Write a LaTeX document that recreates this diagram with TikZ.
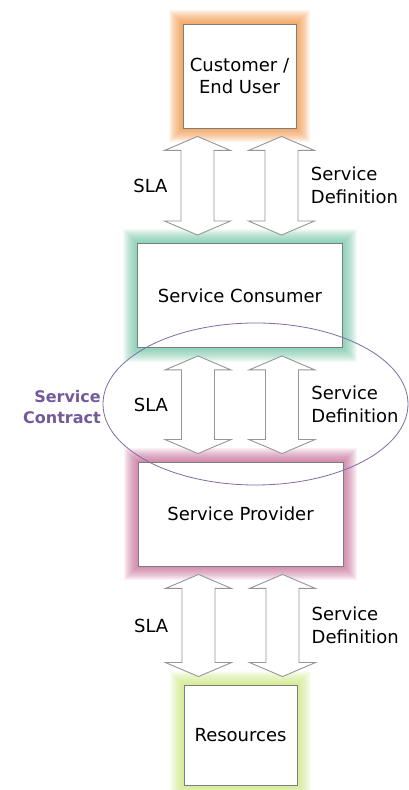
\documentclass[tikz,border=0pt]{standalone}
\usepackage{fontspec}
\setmainfont{DejaVu Sans}
\usetikzlibrary{calc,backgrounds}

\definecolor{custglow}{RGB}{245,135,40}
\definecolor{consglow}{RGB}{100,195,160}
\definecolor{provglow}{RGB}{195,90,140}
\definecolor{resglow}{RGB}{200,232,110}
\definecolor{contract}{RGB}{115,90,155}
\definecolor{boxedge}{RGB}{125,125,125}
\definecolor{arrowedge}{RGB}{150,150,150}

\tikzset{
  box/.style={draw=boxedge, line width=0.9pt, fill=white, align=center, inner sep=0pt,
    font=\fontsize{18}{22}\selectfont},
  smallbox/.style={box, minimum width=113pt, minimum height=104pt},
  widebox/.style={box, minimum width=205pt, minimum height=104pt},
  blockarrow/.style={draw=arrowedge, line width=0.9pt, fill=white, line join=miter},
  lbl/.style={align=left, inner sep=0pt, font=\fontsize{18}{23}\selectfont},
}

% soft coloured halo behind a box
\newcommand\halo[2]{%
  \begin{scope}[on background layer]
    \foreach \k in {1,...,14}
      \fill[#2, opacity=0.075] ($(#1.south west)+(-\k,-\k)$) rectangle ($(#1.north east)+(\k,\k)$);
  \end{scope}}

% two-headed block arrow from #1 down to #2, shifted by #3
\newcommand\twoway[3]{%
  \draw[blockarrow] let \p1=($(#1.south)+(#3,-8)$), \p2=($(#2.north)+(#3,8)$) in
    (\x1,\y1) -- (\x1+33pt,\y1-14pt) -- (\x1+16.5pt,\y1-14pt) -- (\x1+16.5pt,\y2+14pt)
    -- (\x1+33pt,\y2+14pt) -- (\x1,\y2) -- (\x1-33pt,\y2+14pt) -- (\x1-16.5pt,\y2+14pt)
    -- (\x1-16.5pt,\y1-14pt) -- (\x1-33pt,\y1-14pt) -- cycle;}

% SLA and definition arrows between two levels
\newcommand\link[3]{%
  \coordinate (mid-#3) at ($(#1.south)!0.5!(#2.north)$);
  \twoway{#1}{#2}{-42}
  \twoway{#1}{#2}{42}
  \node[lbl, anchor=east] (sla-#3) at ($(mid-#3)+(-72,0)$) {SLA};
  \node[lbl, anchor=west] (def-#3) at ($(mid-#3)+(71,0)$) {Service\\Definition};
}

\begin{document}
\begin{tikzpicture}[x=1pt,y=1pt]
    \useasboundingbox (0,0) rectangle (409,790);
    \begin{scope}[on background layer]
      \fill[white] (0,0) rectangle (409,790);
    \end{scope}

    \node[smallbox] (cust) at (239.5,714) {Customer /\\End User};
    \node[widebox] (cons) at (240,494.5) {Service Consumer};
    \node[widebox] (prov) at (240.5,276) {Service Provider};
    \node[smallbox, minimum height=100pt] (res) at (240.5,55) {Resources};

    \halo{cust}{custglow}
    \halo{cons}{consglow}
    \halo{prov}{provglow}
    \halo{res}{resglow}

    \link{cust}{cons}{top}
    \link{cons}{prov}{mid}
    \link{prov}{res}{low}

    % the contract ring round the middle pair
    \draw[contract!90, line width=0.8pt] (255.5,386) ellipse (152.5 and 81);
    \node[align=right, anchor=east, inner sep=0pt, text=contract,
      font=\fontsize{16}{21}\selectfont\bfseries] (deal) at (101,383) {Service\\Contract};
\end{tikzpicture}
\end{document}
